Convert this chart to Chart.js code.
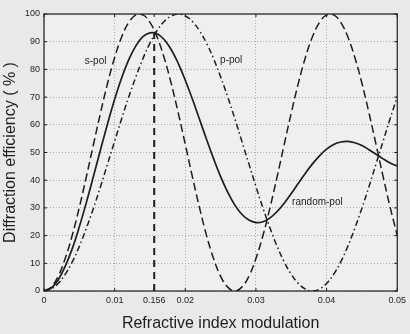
<!DOCTYPE html>
<html>
<head>
<meta charset="utf-8">
<script src="https://cdn.jsdelivr.net/npm/chart.js@4.4.1/dist/chart.umd.min.js"></script>
<style>
  html, body { margin: 0; padding: 0; background: #e9e9e9; }
  #wrap { width: 410px; height: 334px; }
</style>
</head>
<body>
<div id="wrap"><canvas id="chart" width="410" height="334"></canvas></div>
<script>
// refractive index modulation (x), step 0.001
const modulation = [
  0, 0.001, 0.002, 0.003, 0.004, 0.005, 0.006, 0.007, 0.008, 0.009,
  0.010, 0.011, 0.012, 0.013, 0.014, 0.015, 0.016, 0.017, 0.018, 0.019,
  0.020, 0.021, 0.022, 0.023, 0.024, 0.025, 0.026, 0.027, 0.028, 0.029,
  0.030, 0.031, 0.032, 0.033, 0.034, 0.035, 0.036, 0.037, 0.038, 0.039,
  0.040, 0.041, 0.042, 0.043, 0.044, 0.045, 0.046, 0.047, 0.048, 0.049,
  0.050
];
// diffraction efficiency (%)
const sPol = [
  0, 1.4, 5.3, 11.7, 20.1, 30.2, 41.3, 52.9, 64.3, 75.0,
  84.3, 91.8, 97.0, 99.7, 99.7, 97.0, 91.8, 84.3, 75.0, 64.3,
  52.9, 41.3, 30.2, 20.1, 11.7, 5.3, 1.4, 0, 1.4, 5.3,
  11.7, 20.1, 30.2, 41.3, 52.9, 64.3, 75.0, 84.3, 91.8, 97.0,
  99.7, 99.7, 97.0, 91.8, 84.3, 75.0, 64.3, 52.9, 41.3, 30.2,
  20.1
];
const pPol = [
  0, 0.7, 2.7, 6.0, 10.5, 16.1, 22.7, 29.9, 37.7, 45.9,
  54.1, 62.3, 70.1, 77.3, 83.9, 89.5, 94.0, 97.3, 99.3, 100,
  99.3, 97.3, 94.0, 89.5, 83.9, 77.3, 70.1, 62.3, 54.1, 45.9,
  37.7, 29.9, 22.7, 16.1, 10.5, 6.0, 2.7, 0.7, 0, 0.7,
  2.7, 6.0, 10.5, 16.1, 22.7, 29.9, 37.7, 45.9, 54.1, 62.3,
  70.1
];
const randomPol = [
  0, 1.0, 4.0, 8.9, 15.3, 23.2, 32.0, 41.4, 51.0, 60.4,
  69.2, 77.0, 83.5, 88.5, 91.8, 93.2, 92.9, 90.8, 87.2, 82.2,
  76.1, 69.3, 62.1, 54.8, 47.8, 41.3, 35.7, 31.1, 27.7, 25.6,
  24.7, 25.0, 26.4, 28.7, 31.7, 35.2, 38.9, 42.5, 45.9, 48.8,
  51.2, 52.9, 53.8, 54.0, 53.5, 52.5, 51.0, 49.4, 47.7, 46.2,
  45.1
];
// vertical marker at the random-pol maximum
const markerX = [0.0156, 0.0156];
const markerY = [0, 93];

const xTickValues = [0, 0.01, 0.0156, 0.02, 0.03, 0.04, 0.05];
const xTickLabels = ['0', '0.01', '0.156', '0.02', '0.03', '0.04', '0.05'];

const curveLabels = [
  { text: 's-pol', x: 0.0073, y: 83 },
  { text: 'p-pol', x: 0.0265, y: 83.4 },
  { text: 'random-pol', x: 0.0387, y: 32 }
];

const ink = '#1e1e1e';
const FONT = "'Liberation Sans', Arial, Helvetica, sans-serif";

const pts = (ys) => modulation.map((x, i) => ({ x, y: ys[i] }));

// plot background, box, inner ticks and curve labels
const framePlugin = {
  id: 'frame',
  beforeDraw(chart) {
    const { ctx, chartArea: a } = chart;
    ctx.save();
    ctx.fillStyle = '#efefef';
    ctx.fillRect(a.left, a.top, a.right - a.left, a.bottom - a.top);
    ctx.restore();
  },
  afterDraw(chart) {
    const { ctx, chartArea: a, scales } = chart;
    ctx.save();
    ctx.strokeStyle = ink;
    ctx.lineWidth = 1.2;
    ctx.strokeRect(a.left, a.top, a.right - a.left, a.bottom - a.top);
    ctx.lineWidth = 1;
    scales.y.ticks.forEach(t => {
      const py = scales.y.getPixelForValue(t.value);
      ctx.beginPath();
      ctx.moveTo(a.left, py); ctx.lineTo(a.left + 3, py);
      ctx.moveTo(a.right, py); ctx.lineTo(a.right - 3, py);
      ctx.stroke();
    });
    scales.x.ticks.forEach(t => {
      const px = scales.x.getPixelForValue(t.value);
      ctx.beginPath();
      ctx.moveTo(px, a.bottom); ctx.lineTo(px, a.bottom - 3);
      ctx.moveTo(px, a.top); ctx.lineTo(px, a.top + 3);
      ctx.stroke();
    });
    ctx.fillStyle = ink;
    ctx.font = '10px ' + FONT;
    ctx.textAlign = 'center';
    ctx.textBaseline = 'middle';
    curveLabels.forEach(l => {
      ctx.fillText(l.text, scales.x.getPixelForValue(l.x), scales.y.getPixelForValue(l.y));
    });
    ctx.restore();
  }
};

new Chart(document.getElementById('chart'), {
  type: 'line',
  data: {
    datasets: [
      { label: 's-pol', data: pts(sPol), borderColor: ink, borderWidth: 1.5, borderDash: [8, 4], tension: 0.4 },
      { label: 'p-pol', data: pts(pPol), borderColor: ink, borderWidth: 1.5, borderDash: [6, 3, 1.5, 3], tension: 0.4 },
      { label: 'random-pol', data: pts(randomPol), borderColor: ink, borderWidth: 1.7, tension: 0.4 },
      { label: 'marker', data: markerX.map((x, i) => ({ x, y: markerY[i] })), borderColor: ink, borderWidth: 2, borderDash: [7, 5], tension: 0 }
    ]
  },
  options: {
    responsive: false,
    animation: false,
    events: [],
    elements: { point: { radius: 0 } },
    layout: { padding: { top: 14, right: 9, left: 0, bottom: 0 } },
    plugins: { legend: { display: false }, tooltip: { enabled: false } },
    scales: {
      x: {
        type: 'linear',
        min: 0,
        max: 0.05,
        afterBuildTicks: (scale) => { scale.ticks = xTickValues.map(v => ({ value: v })); },
        afterFit: (scale) => { scale.height = 43; },
        ticks: {
          autoSkip: false,
          maxRotation: 0,
          padding: 4,
          color: ink,
          font: { family: FONT, size: 9 },
          callback: (v, i) => xTickLabels[i]
        },
        grid: {
          drawTicks: false,
          lineWidth: 1,
          color: (c) => (c.tick && c.tick.value === 0.0156) ? 'rgba(0,0,0,0)' : '#ababab'
        },
        border: { display: false, dash: [1, 2] },
        title: {
          display: true,
          text: 'Refractive index modulation',
          color: ink,
          font: { family: FONT, size: 16 },
          padding: { top: 0, bottom: 1 }
        }
      },
      y: {
        min: 0,
        max: 100,
        afterFit: (scale) => { scale.width = 44; },
        ticks: {
          stepSize: 10,
          padding: 4,
          color: ink,
          font: { family: FONT, size: 9 }
        },
        grid: { drawTicks: false, lineWidth: 1, color: '#ababab' },
        border: { display: false, dash: [1, 2] },
        title: {
          display: true,
          text: 'Diffraction efficiency ( % )',
          color: ink,
          font: { family: FONT, size: 16 },
          padding: { top: 1, bottom: 0 }
        }
      }
    }
  },
  plugins: [framePlugin]
});
</script>
</body>
</html>
